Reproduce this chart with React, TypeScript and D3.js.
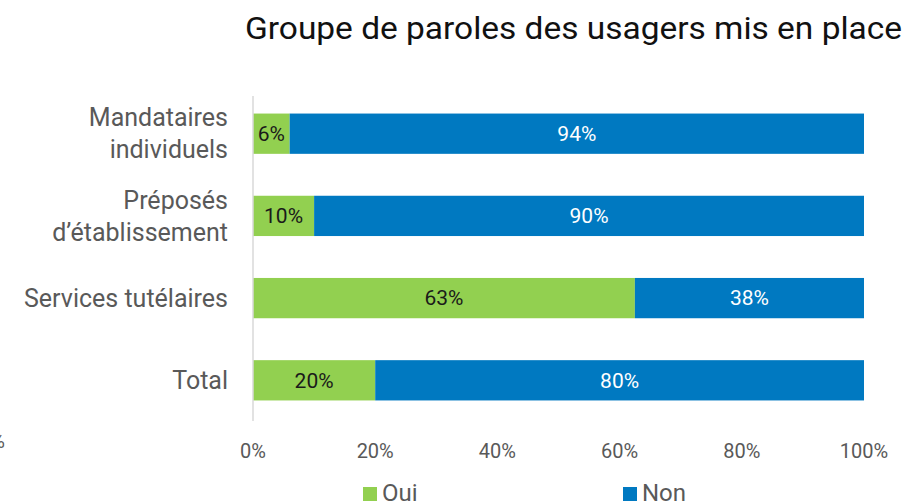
import React, { useRef, useEffect } from 'react';
import * as d3 from 'd3';

const categories = ['Mandataires\nindividuels', 'Préposés\nd’établissement', 'Services tutélaires', 'Total'];
const oui = [6, 10, 62.5, 20];
const non = [94, 90, 37.5, 80];
const xTicks = [0, 20, 40, 60, 80, 100];
const seriesNames = ['Oui', 'Non'];
const seriesColors = ['#92D050', '#0079C1'];

const W = 907;
const H = 504;

export default function App() {
    const ref = useRef<SVGSVGElement>(null);

    useEffect(() => {
        if (!ref.current) return;
        const svg = d3.select(ref.current);
        svg.selectAll('*').remove();
        const font = 'Roboto, sans-serif';

        const x = d3.scaleLinear().domain([0, 100]).range([253, 864]);
        const y = d3.scaleBand<string>().domain(categories).range([93, 421]).paddingInner(0.51).paddingOuter(0.25);

        // title
        svg.append('text')
            .attr('x', 245).attr('y', 39)
            .attr('font-family', font).attr('font-size', 32)
            .attr('textLength', 657).attr('lengthAdjust', 'spacingAndGlyphs')
            .attr('fill', '#111')
            .text('Groupe de paroles des usagers mis en place');

        // stray clipped label at left edge
        svg.append('text')
            .attr('x', 5).attr('y', 448)
            .attr('text-anchor', 'end')
            .attr('font-family', font).attr('font-size', 20)
            .attr('fill', '#595959')
            .text('0%');

        const rows = categories.map((c, i) => ({ c, vals: [oui[i], non[i]] }));

        rows.forEach(r => {
            let start = 0;
            r.vals.forEach((v, k) => {
                const x0 = x(start);
                const x1 = x(start + v);
                svg.append('rect')
                    .attr('x', x0).attr('y', y(r.c)!)
                    .attr('width', x1 - x0).attr('height', y.bandwidth())
                    .attr('fill', seriesColors[k]);
                svg.append('text')
                    .attr('x', (x0 + x1) / 2).attr('y', y(r.c)! + y.bandwidth() / 2)
                    .attr('dy', '0.35em')
                    .attr('text-anchor', 'middle')
                    .attr('font-family', font).attr('font-size', 21)
                    .attr('fill', k === 0 ? '#1a1a1a' : '#ffffff')
                    .text(Math.round(v) + '%');
                start += v;
            });
        });

        // vertical axis line
        svg.append('line')
            .attr('x1', x(0)).attr('x2', x(0))
            .attr('y1', 96).attr('y2', 421)
            .attr('stroke', '#d9d9d9').attr('stroke-width', 1.5);

        // category labels
        categories.forEach(c => {
            const lines = c.split('\n');
            const cy = y(c)! + y.bandwidth() / 2;
            const t = svg.append('text')
                .attr('text-anchor', 'end')
                .attr('font-family', font).attr('font-size', 25)
                .attr('fill', '#595959');
            lines.forEach((l, i) => {
                t.append('tspan')
                    .attr('x', 228)
                    .attr('y', cy + (i - (lines.length - 1) / 2) * 32)
                    .attr('dy', '0.35em')
                    .text(l);
            });
        });

        // x tick labels
        svg.selectAll('.xt')
            .data(xTicks)
            .join('text')
            .attr('class', 'xt')
            .attr('x', d => x(d)).attr('y', 451)
            .attr('dy', '0.35em')
            .attr('text-anchor', 'middle')
            .attr('font-family', font).attr('font-size', 20)
            .attr('fill', '#595959')
            .text(d => d + '%');

        // legend
        const legendX = [363, 623];
        seriesNames.forEach((s, i) => {
            svg.append('rect')
                .attr('x', legendX[i]).attr('y', 487)
                .attr('width', 14).attr('height', 14)
                .attr('fill', seriesColors[i]);
            svg.append('text')
                .attr('x', legendX[i] + 19).attr('y', 501)
                .attr('font-family', font).attr('font-size', 24)
                .attr('fill', '#595959')
                .text(s);
        });
    }, []);

    return (
        <svg ref={ref} width={W} height={H} style={{ position: 'absolute', left: 0, top: 0, background: '#fff' }}></svg>
    );
}
